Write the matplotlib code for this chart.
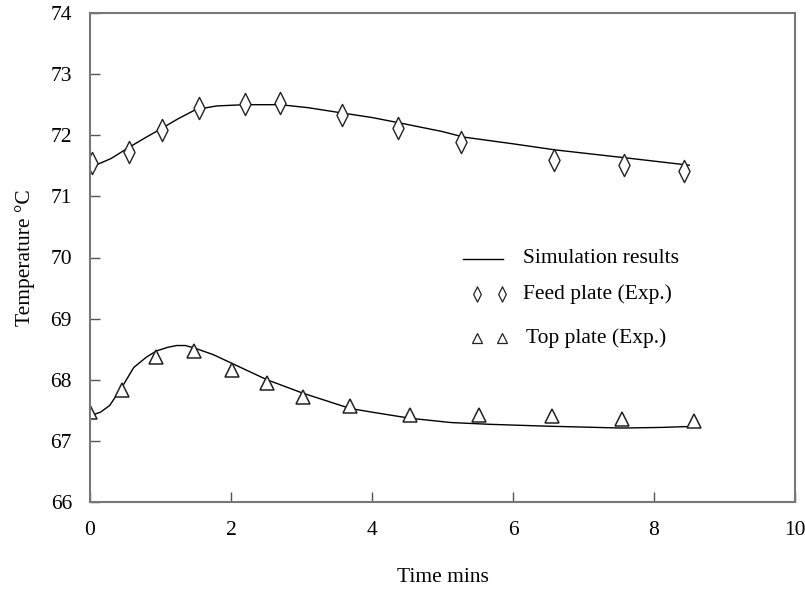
import matplotlib.pyplot as plt
from matplotlib.path import Path

plt.rcParams['font.family'] = ['Liberation Serif', 'DejaVu Serif']
plt.rcParams['font.size'] = 15.5

# experimental points
feed_t = [0.03, 0.55, 1.02, 1.54, 2.2, 2.7, 3.58, 4.37, 5.26, 6.58, 7.57, 8.43]
feed_T = [71.54, 71.72, 72.08, 72.44, 72.51, 72.52, 72.33, 72.12, 71.89, 71.60, 71.51, 71.41]

top_t = [0.0, 0.46, 0.94, 1.48, 2.01, 2.51, 3.02, 3.69, 4.54, 5.52, 6.55, 7.55, 8.57]
top_T = [67.47, 67.84, 68.37, 68.47, 68.16, 67.94, 67.71, 67.57, 67.43, 67.42, 67.40, 67.35, 67.33]

# simulation curves
sim_feed_t = [0.0, 0.1, 0.3, 0.55, 0.8, 1.0, 1.25, 1.5, 1.8, 2.2, 2.7, 3.1, 3.6, 4.0, 4.4, 5.0, 5.3, 6.0, 6.6, 7.6, 8.5]
sim_feed_T = [71.5, 71.52, 71.62, 71.8, 71.97, 72.1, 72.27, 72.42, 72.48, 72.5, 72.5, 72.45, 72.36, 72.29, 72.2, 72.06, 71.97, 71.86, 71.76, 71.63, 71.51]

sim_top_t = [0.0, 0.15, 0.28, 0.47, 0.62, 0.8, 0.94, 1.1, 1.23, 1.35, 1.48, 1.75, 2.01, 2.51, 3.02, 3.69, 4.0, 4.54, 5.12, 5.69, 6.5, 7.54, 8.1, 8.63]
sim_top_T = [67.41, 67.47, 67.58, 67.91, 68.2, 68.37, 68.47, 68.53, 68.56, 68.56, 68.52, 68.41, 68.27, 68.0, 67.78, 67.53, 67.47, 67.37, 67.3, 67.27, 67.24, 67.21, 67.22, 67.24]

xticks = [0, 2, 4, 6, 8, 10]
yticks = [66, 67, 68, 69, 70, 71, 72, 73, 74]

# tall narrow diamond
diamond = Path([(0, -1), (0.5, 0), (0, 1), (-0.5, 0), (0, -1)],
               [Path.MOVETO, Path.LINETO, Path.LINETO, Path.LINETO, Path.CLOSEPOLY])

fig = plt.figure(figsize=(8.05, 5.9), dpi=100)
ax = fig.add_axes([90 / 805, 88 / 590, 705 / 805, 489 / 590])

ink = '#222222'
ax.plot(sim_feed_t, sim_feed_T, color='black', lw=1.0)
ax.plot(sim_top_t, sim_top_T, color='black', lw=1.0)
ax.plot(feed_t, feed_T, ls='none', marker=diamond, ms=16, mfc='white', mec=ink, mew=1.0)
ax.plot(top_t, top_T, ls='none', marker='^', ms=9.5, mfc='white', mec=ink, mew=1.1)

ax.set_xlim(0, 10)
ax.set_ylim(66, 74)
ax.set_xticks(xticks)
ax.set_yticks(yticks)
ax.tick_params(direction='in', length=7, width=1, color='#555555', labelsize=15.5)
ax.tick_params(axis='x', pad=14)
ax.tick_params(axis='y', pad=13)
for s in ax.spines.values():
    s.set_color('#777777')
    s.set_linewidth(1.5)

ax.set_xlabel('Time mins', labelpad=20)
ax.set_ylabel('Temperature °C', labelpad=11)

# legend
tr = ax.transAxes
ax.plot([0.529, 0.586], [0.497, 0.497], color='black', lw=1.0, transform=tr)
ax.plot([0.549, 0.584], [0.425, 0.425], ls='none', marker=diamond, ms=11,
        mfc='white', mec=ink, mew=0.9, transform=tr)
ax.plot([0.549, 0.584], [0.335, 0.335], ls='none', marker='^', ms=6.5,
        mfc='white', mec=ink, mew=0.9, transform=tr)
ax.text(0.614, 0.497, 'Simulation results', transform=tr, va='center', ha='left')
ax.text(0.614, 0.425, 'Feed plate (Exp.)', transform=tr, va='center', ha='left')
ax.text(0.618, 0.335, 'Top plate (Exp.)', transform=tr, va='center', ha='left')

fig.savefig('out.png', dpi=100)
